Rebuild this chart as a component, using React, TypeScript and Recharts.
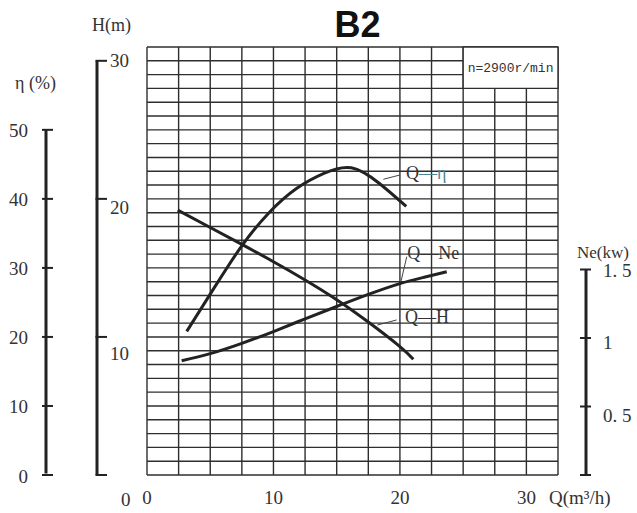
import { ComposedChart, Line, XAxis, YAxis, CartesianGrid, ReferenceArea, ReferenceLine, ReferenceDot } from "recharts"

// flow Q (m3/h) on the x axis
const qGrid = [0, 2.5, 5, 7.5, 10, 12.5, 15, 17.5, 20, 22.5, 25, 27.5, 30, 32.5]
const qTicks = [0, 10, 20, 30]
const hGrid = Array.from({ length: 32 }, (_, i) => i)
const hTicks = [0, 10, 20, 30]
const etaTicks = [0, 10, 20, 30, 40, 50]
const neTicks = [0, 0.5, 1, 1.5]

// Q-H curve
const qForH = [2.43, 5, 7.5, 10, 12.5, 15, 17.5, 20, 21.06]
const hValues = [19.19, 17.93, 16.7, 15.45, 14.13, 12.7, 11.08, 9.3, 8.38]

// Q-η curve
const qForEta = [3.14, 5.31, 7.48, 9.65, 11.82, 13.99, 16.16, 18.33, 20.5]
const etaValues = [20.8, 27.1, 33.15, 38.0, 41.5, 43.7, 44.5, 42.3, 38.9]

// Q-Ne curve
const qForNe = [2.74, 5, 7.5, 10, 12.5, 15, 17.5, 20, 22, 23.7]
const neValues = [0.834, 0.886, 0.961, 1.047, 1.14, 1.23, 1.318, 1.397, 1.445, 1.484]

const hData = qForH.map((q, i) => ({ q, h: hValues[i] }))
const etaData = qForEta.map((q, i) => ({ q, eta: etaValues[i] }))
const neData = qForNe.map((q, i) => ({ q, ne: neValues[i] }))

const W = 637
const H = 513
const PLOT_BOTTOM = 475
const ETA_LINE_X = 46
const H_LINE_X = 97
const NE_LINE_X = 586

const SERIF = "'Liberation Serif', 'Times New Roman', serif"
const INK = "#222"
const TXT = "#333"

function HTick(props: any) {
  const { y, payload } = props
  const v = payload.value
  const top = v === 30
  const labelX = v === 0 ? H_LINE_X + 24 : H_LINE_X + 13
  return (
    <g>
      {top && (
        <>
          <line x1={H_LINE_X} y1={y} x2={H_LINE_X} y2={PLOT_BOTTOM} stroke={INK} strokeWidth={3} />
          <text x={H_LINE_X - 5} y={y - 36} fontFamily={SERIF} fontSize={18} fill={TXT} dominantBaseline="central">
            H(m)
          </text>
        </>
      )}
      <line x1={H_LINE_X - 1.5} y1={y} x2={H_LINE_X + 10} y2={y} stroke={INK} strokeWidth={2} />
      <text x={labelX} y={y + (30 - v) * 0.83} fontFamily={SERIF} fontSize={19} fill={TXT} dominantBaseline="central">
        {v}
      </text>
    </g>
  )
}

function EtaTick(props: any) {
  const { y, payload } = props
  const v = payload.value
  return (
    <g>
      {v === 50 && (
        <>
          <line x1={ETA_LINE_X} y1={y} x2={ETA_LINE_X} y2={PLOT_BOTTOM - 1.5} stroke={INK} strokeWidth={3} />
          <text x={15} y={y - 47} fontFamily={SERIF} fontSize={18} fill={TXT} dominantBaseline="central">
            η (%)
          </text>
        </>
      )}
      <line x1={ETA_LINE_X - 4} y1={y} x2={ETA_LINE_X + 7} y2={y} stroke={INK} strokeWidth={2} />
      <text x={28} y={y + 1} textAnchor="end" fontFamily={SERIF} fontSize={19} fill={TXT} dominantBaseline="central">
        {v}
      </text>
    </g>
  )
}

function NeTick(props: any) {
  const { y, payload } = props
  const v = payload.value
  const label = v === 1.5 ? "1. 5" : v === 0.5 ? "0. 5" : v === 1 ? "1" : ""
  return (
    <g>
      {v === 1.5 && (
        <>
          <line x1={NE_LINE_X} y1={y} x2={NE_LINE_X} y2={PLOT_BOTTOM} stroke={INK} strokeWidth={3} />
          <text x={577} y={y - 17} fontFamily={SERIF} fontSize={17} fill={TXT} dominantBaseline="central">
            Ne(kw)
          </text>
        </>
      )}
      <line x1={NE_LINE_X - 6} y1={y} x2={NE_LINE_X + 5} y2={y} stroke={INK} strokeWidth={2} />
      {label && (
        <text x={NE_LINE_X + 17} y={y + (1.5 - v) * 8 + 1} fontFamily={SERIF} fontSize={19} fill={TXT} dominantBaseline="central">
          {label}
        </text>
      )}
    </g>
  )
}

function QTick(props: any) {
  const { x, payload } = props
  return (
    <text x={x} y={PLOT_BOTTOM + 22} textAnchor="middle" fontFamily={SERIF} fontSize={19} fill={TXT} dominantBaseline="central">
      {payload.value}
    </text>
  )
}

function curveLabel(main: string, tail: string, tailColor: string) {
  return (p: any) => {
    const vb = p.viewBox
    return (
      <text x={vb.x} y={vb.y} fontFamily={SERIF} fontSize={18} fill={TXT} dominantBaseline="central">
        {main}
        <tspan fill={tailColor}>{tail}</tspan>
      </text>
    )
  }
}

export default function App() {
  return (
    <div style={{ position: "absolute", left: 0, top: 0, width: W, height: H, background: "#fff" }}>
      <div
        style={{
          position: "absolute",
          left: 300,
          top: 7,
          width: 115,
          textAlign: "center",
          fontFamily: "'Liberation Sans', Arial, sans-serif",
          fontWeight: "bold",
          fontSize: 36,
          lineHeight: "35px",
          color: "#111",
        }}
      >
        B2
      </div>
      <ComposedChart width={W} height={H} margin={{ top: 47, right: 0, bottom: 0, left: 46 }}>
        <XAxis xAxisId="grid" type="number" dataKey="q" domain={[0, 32.5]} ticks={qGrid} interval={0} allowDataOverflow hide />
        <YAxis yAxisId="grid" type="number" domain={[0, 31]} ticks={hGrid} interval={0} allowDataOverflow hide />
        <CartesianGrid xAxisId="grid" yAxisId="grid" stroke="#2e2e2e" strokeWidth={1.4} />
        <XAxis
          xAxisId="q"
          type="number"
          dataKey="q"
          domain={[0, 32.5]}
          ticks={qTicks}
          interval={0}
          allowDataOverflow
          height={38}
          axisLine={false}
          tickLine={false}
          tickSize={0}
          tickMargin={0}
          tick={<QTick />}
          label={{
            content: () => (
              <text x={549} y={PLOT_BOTTOM + 22} fontFamily={SERIF} fontSize={19} fill={TXT} dominantBaseline="central">
                Q(m³/h)
              </text>
            ),
          }}
        />
        <YAxis
          yAxisId="h"
          type="number"
          width={50}
          domain={[0, 31]}
          ticks={hTicks}
          interval={0}
          allowDataOverflow
          axisLine={false}
          tickLine={false}
          tickSize={0}
          tickMargin={0}
          tick={<HTick />}
        />
        <YAxis
          yAxisId="eta"
          type="number"
          width={51}
          domain={[0, 62]}
          ticks={etaTicks}
          interval={0}
          allowDataOverflow
          axisLine={false}
          tickLine={false}
          tickSize={0}
          tickMargin={0}
          tick={<EtaTick />}
        />
        <YAxis
          yAxisId="ne"
          type="number"
          orientation="right"
          width={79}
          domain={[0, 3.124]}
          ticks={neTicks}
          interval={0}
          allowDataOverflow
          axisLine={false}
          tickLine={false}
          tickSize={0}
          tickMargin={0}
          tick={<NeTick />}
        />

        <ReferenceArea
          xAxisId="grid"
          yAxisId="grid"
          x1={25}
          x2={32.5}
          y1={28}
          y2={31}
          fill="#fff"
          fillOpacity={1}
          stroke="#2e2e2e"
          strokeWidth={1.4}
          label={{ value: "n=2900r/min", position: "center", fontFamily: "'Liberation Mono', monospace", fontSize: 13, fill: TXT }}
        />

        <Line xAxisId="q" yAxisId="h" data={hData} dataKey="h" type="natural" dot={false} stroke={INK} strokeWidth={3} isAnimationActive={false} />
        <Line xAxisId="q" yAxisId="eta" data={etaData} dataKey="eta" type="natural" dot={false} stroke={INK} strokeWidth={3} isAnimationActive={false} />
        <Line xAxisId="q" yAxisId="ne" data={neData} dataKey="ne" type="natural" dot={false} stroke={INK} strokeWidth={3} isAnimationActive={false} />

        <ReferenceLine xAxisId="q" yAxisId="h" segment={[{ x: 18.69, y: 21.42 }, { x: 20.0, y: 21.73 }]} stroke="#444" strokeWidth={1} />
        <ReferenceLine xAxisId="q" yAxisId="h" segment={[{ x: 20.08, y: 14.0 }, { x: 20.54, y: 15.81 }]} stroke="#444" strokeWidth={1} />
        <ReferenceLine xAxisId="q" yAxisId="h" segment={[{ x: 18.21, y: 10.86 }, { x: 19.74, y: 11.23 }]} stroke="#444" strokeWidth={1} />

        <ReferenceDot xAxisId="q" yAxisId="h" x={20.48} y={21.87} r={0} fill="none" stroke="none" label={{ content: curveLabel("Q", "—η", "#4f8593") }} />
        <ReferenceDot xAxisId="q" yAxisId="h" x={20.58} y={16.06} r={0} fill="none" stroke="none" label={{ content: curveLabel("Q—Ne", "", TXT) }} />
        <ReferenceDot xAxisId="q" yAxisId="h" x={20.4} y={11.47} r={0} fill="none" stroke="none" label={{ content: curveLabel("Q—H", "", TXT) }} />
      </ComposedChart>
    </div>
  )
}
